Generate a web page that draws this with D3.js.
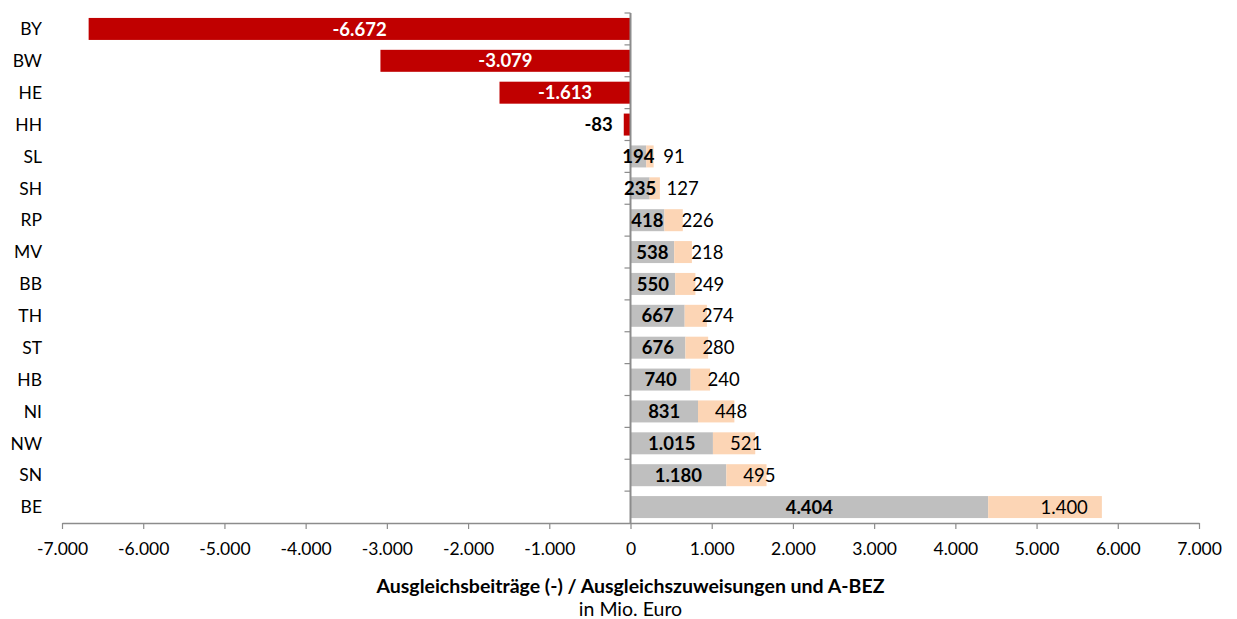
<!DOCTYPE html>
<html>
<head>
<meta charset="utf-8">
<script src="https://cdn.jsdelivr.net/npm/d3@7"></script>
<style>
  body { margin: 0; background: #fff; }
  svg text { font-family: Lato, Carlito, Calibri, sans-serif; }
  .domain, .tick line { stroke: #8c8c8c; }
</style>
</head>
<body>
<svg id="chart"></svg>
<script>
// ---------- data (Mio. Euro) ----------
const laender = ['BY', 'BW', 'HE', 'HH', 'SL', 'SH', 'RP', 'MV', 'BB', 'TH', 'ST', 'HB', 'NI', 'NW', 'SN', 'BE'];
const ausgleich = [-6672, -3079, -1613, -83, 194, 235, 418, 538, 550, 667, 676, 740, 831, 1015, 1180, 4404];
const abez = [0, 0, 0, 0, 91, 127, 226, 218, 249, 274, 280, 240, 448, 521, 495, 1400];
const xTicks = [-7000, -6000, -5000, -4000, -3000, -2000, -1000, 0, 1000, 2000, 3000, 4000, 5000, 6000, 7000];

const width = 1237,
      height = 619,
      margin = {top: 13, right: 38, bottom: 96, left: 62};

const de = d3.formatLocale({decimal: ',', thousands: '.', grouping: [3], currency: ['', ' €'], minus: '-'});
const fmt = de.format(',d');

const svg = d3.select('#chart')
  .attr('width', width)
  .attr('height', height);

//------ scales
const x = d3.scaleLinear()
  .domain([-7000, 7000])
  .range([margin.left, width - margin.right]);

const y = d3.scaleBand()
  .domain(laender)
  .range([margin.top, height - margin.bottom])
  .paddingInner(0.31)
  .paddingOuter(0.155);

const rows = laender.map((land, i) => ({land, wert: ausgleich[i], bez: abez[i]}));

//------ bars: Ausgleich (red for payers, grey for receivers)
svg.append('g')
  .selectAll('rect')
  .data(rows)
  .join('rect')
    .attr('x', d => x(Math.min(0, d.wert)))
    .attr('y', d => y(d.land))
    .attr('width', d => Math.abs(x(d.wert) - x(0)))
    .attr('height', y.bandwidth())
    .attr('fill', d => d.wert < 0 ? '#c00000' : '#bfbfbf');

//------ bars: A-BEZ stacked on top
svg.append('g')
  .selectAll('rect')
  .data(rows.filter(d => d.bez > 0))
  .join('rect')
    .attr('x', d => x(d.wert))
    .attr('y', d => y(d.land))
    .attr('width', d => x(d.wert + d.bez) - x(d.wert))
    .attr('height', y.bandwidth())
    .attr('fill', '#fcd5b5');

//------ axes
const xAxis = svg.append('g')
  .attr('transform', `translate(0,${height - margin.bottom})`)
  .call(d3.axisBottom(x).tickValues(xTicks).tickSize(6).tickSizeOuter(0).tickFormat(fmt));
xAxis.select('.domain').attr('stroke-width', 1.5);
xAxis.selectAll('.tick line').attr('stroke-width', 1.2);
xAxis.selectAll('.tick text')
  .attr('dy', '1.3em')
  .attr('fill', '#000')
  .style('font-size', '17.5px');

const yAxis = svg.append('g')
  .attr('transform', `translate(${x(0)},0)`);
yAxis.append('line')
  .attr('y1', margin.top)
  .attr('y2', height - margin.bottom)
  .attr('stroke', '#8c8c8c')
  .attr('stroke-width', 2);
// ticks between the categories
const step = y.step();
yAxis.selectAll('.ytick')
  .data(d3.range(laender.length))
  .join('line')
    .attr('class', 'ytick')
    .attr('x1', -6).attr('x2', 0)
    .attr('y1', i => margin.top + i * step)
    .attr('y2', i => margin.top + i * step)
    .attr('stroke', '#8c8c8c')
    .attr('stroke-width', 1.2);

// category labels (low position)
svg.append('g')
  .selectAll('text')
  .data(laender)
  .join('text')
    .attr('x', 42)
    .attr('y', d => y(d) + y.bandwidth() / 2)
    .attr('dy', '0.36em')
    .attr('text-anchor', 'end')
    .style('font-size', '17.5px')
    .text(d => d);

//------ value labels
const labels = svg.append('g').style('font-size', '18.5px');
const mid = d => y(d.land) + y.bandwidth() / 2;

labels.selectAll('.wert')
  .data(rows)
  .join('text')
    .attr('class', 'wert')
    .attr('y', mid)
    .attr('dy', '0.36em')
    .attr('font-weight', 'bold')
    .each(function (d) {
      const t = d3.select(this).text(fmt(d.wert));
      const w = this.getComputedTextLength();
      const barW = Math.abs(x(d.wert) - x(0));
      if (d.wert < 0 && barW < w) {          // too small -> outside end
        t.attr('x', x(d.wert) - 11).attr('text-anchor', 'end').attr('fill', '#000');
      } else {
        t.attr('x', (x(0) + x(d.wert)) / 2).attr('text-anchor', 'middle')
         .attr('fill', d.wert < 0 ? '#fff' : '#000');
      }
    });

labels.selectAll('.bez')
  .data(rows.filter(d => d.bez > 0))
  .join('text')
    .attr('class', 'bez')
    .attr('y', mid)
    .attr('dy', '0.36em')
    .attr('fill', '#000')
    .text(d => fmt(d.bez))
    .each(function (d) {
      const segW = x(d.wert + d.bez) - x(d.wert);
      const t = d3.select(this);
      if (segW > 80) t.attr('x', x(d.wert + d.bez) - 14).attr('text-anchor', 'end');
      else t.attr('x', x(d.wert) + 17).attr('text-anchor', 'start');
    });

//------ axis title
svg.append('text')
  .attr('x', x(0))
  .attr('y', 593)
  .attr('text-anchor', 'middle')
  .attr('font-weight', 'bold')
  .style('font-size', '19.5px')
  .text('Ausgleichsbeiträge (-) / Ausgleichszuweisungen und A-BEZ');

svg.append('text')
  .attr('x', x(0))
  .attr('y', 616)
  .attr('text-anchor', 'middle')
  .style('font-size', '19.5px')
  .text('in Mio. Euro');
</script>
</body>
</html>
